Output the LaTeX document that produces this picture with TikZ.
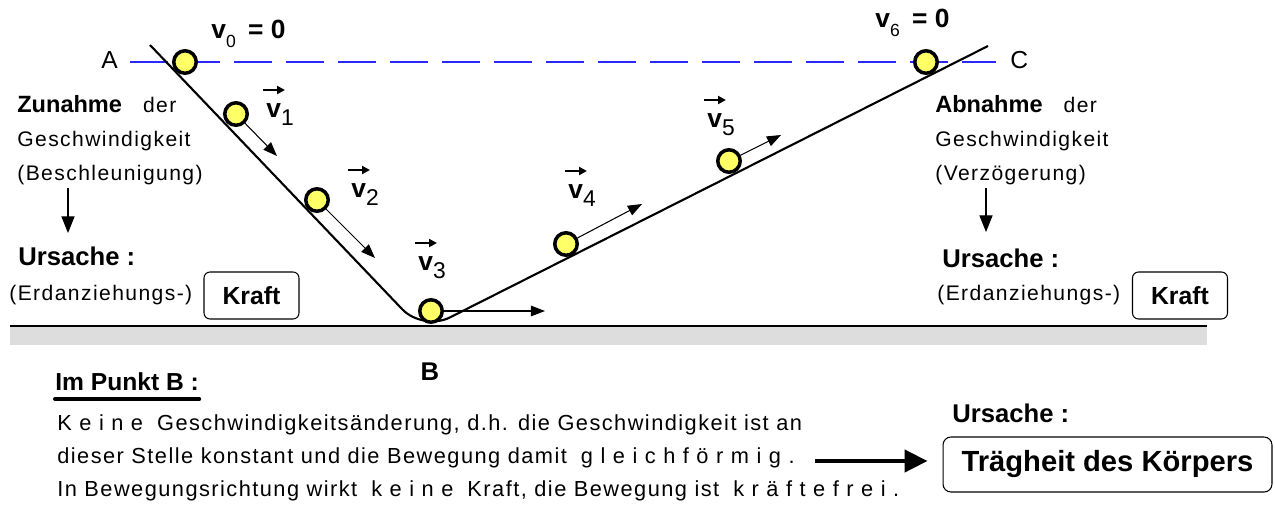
\documentclass[tikz,border=0pt]{standalone}
\usepackage{fontspec}
\setmainfont{Liberation Sans}[UprightFeatures={LetterSpace=6.7}]
\usetikzlibrary{arrows.meta}

\definecolor{ballyellow}{RGB}{255,255,102}
\definecolor{groundgray}{RGB}{221,221,221}
\definecolor{levelblue}{RGB}{40,40,255}

% Geschwindigkeit mit Index
\newcommand{\velo}[1]{\textbf{v}\raisebox{-4.8pt}{\fontsize{13}{13}\selectfont #1}}
\newcommand{\velnull}[1]{\textbf{v}\raisebox{-5.5pt}{\fontsize{10}{10}\selectfont #1}\hspace{7pt}\textbf{= 0}}

\begin{document}
\begin{tikzpicture}[x=0.02cm,y=-0.02cm,
  ball/.style={circle,draw=black,line width=2pt,fill=ballyellow,minimum size=0.45cm,inner sep=0pt},
  txt/.style={anchor=base west,inner sep=0pt,font=\fontsize{12}{14}\selectfont},
  note/.style={anchor=base west,inner sep=0pt,font=\fontsize{12.4}{14}\selectfont},
  cause/.style={anchor=base west,inner sep=0pt,font=\fontsize{14.6}{16}\selectfont\bfseries},
  vlab/.style={anchor=base west,inner sep=0pt,font=\fontsize{15}{16}\selectfont},
  forcebox/.style={draw,rounded corners=3.4pt,line width=0.6pt,minimum width=1.9cm,minimum height=0.94cm,inner sep=0pt,font=\fontsize{14.1}{16}\selectfont\bfseries},
  vec/.style={-{Triangle[length=8pt,width=6pt]},line width=0.6pt},
  ovec/.style={-{Triangle[length=4.5pt,width=4.5pt]},line width=1.1pt},
  down/.style={-{Triangle[length=9.5pt,width=7.5pt]},line width=0.6pt}]
  \useasboundingbox (0,0) rectangle (1275,518);

  % Boden
  \fill[groundgray] (10,327) rectangle (1207,345);
  \coordinate (gl) at (10,326);
  \coordinate (gr) at (1207,326);
  \draw[line width=1.4pt] (gl) -- (gr);

  % Hoehenlinie A -- C
  \coordinate (lvlL) at (130,62);
  \coordinate (lvlR) at (996,62);
  \draw[levelblue,line width=0.7pt,dash pattern=on 21.6pt off 8pt] (lvlL) -- (lvlR);

  % Bahn
  \coordinate (topL) at (150,45);
  \coordinate (bottom) at (423,331);
  \coordinate (topR) at (988,46);
  \draw[line width=1.2pt,rounded corners=0.6cm] (topL) -- (bottom) -- (topR);

  % Kugeln
  \foreach \n/\x/\y in {0/185/62, 1/236/114, 2/317/200, 3/431/311, 4/566/244, 5/729/161, 6/926/62}
    \node[ball] (b\n) at (\x,\y) {};

  % Geschwindigkeitspfeile
  \foreach \n/\x/\y in {1/277/156, 2/375/258, 3/545/311, 4/642/204, 5/781/135}
    \coordinate (t\n) at (\x,\y);
  \foreach \n in {1,...,5}
    \draw[vec] (b\n) -- (t\n);

  % Beschriftung der Vektoren
  \node[vlab] (v0) at (211,38) {\velnull{0}};
  \node[vlab] (v1) at (266,117) {\velo{1}};
  \node[vlab] (v2) at (351,197) {\velo{2}};
  \node[vlab] (v3) at (418,270) {\velo{3}};
  \node[vlab] (v4) at (568,198) {\velo{4}};
  \node[vlab] (v5) at (707,127) {\velo{5}};
  \node[vlab] (v6) at (875,27) {\velnull{6}};
  \foreach \n in {1,...,5}
    \draw[ovec] ([shift={(-3,-27)}]v\n.base west) -- ++(22,0);

  % Punkte
  \node[txt,font=\fontsize{14}{16}\selectfont] (A) at (101,68) {A};
  \node[txt,font=\fontsize{14}{16}\selectfont] (C) at (1010,68) {C};
  \node[cause,anchor=center] (B) at (430,372) {B};

  % linke Seite
  \node[txt] (zun) at (17,112) {\textbf{\fontsize{13.4}{14}\selectfont Zunahme}\hspace{12pt}der};
  \node[txt] (zun2) at (17,146) {Geschwindigkeit};
  \node[txt] (zun3) at (17,180) {(Beschleunigung)};
  \coordinate (la1) at (68,188);
  \coordinate (la2) at (68,233);
  \draw[down] (la1) -- (la2);
  \node[cause] (usL) at (18,265) {Ursache :};
  \node[txt] (erdL) at (9,300) {(Erdanziehungs-)};
  \node[forcebox] (kraftL) at (251.5,295.5) {Kraft};

  % rechte Seite
  \node[txt] (abn) at (935,112) {\textbf{\fontsize{13.4}{14}\selectfont Abnahme}\hspace{12pt}der};
  \node[txt] (abn2) at (935,146) {Geschwindigkeit};
  \node[txt] (abn3) at (935,180) {(Verzögerung)};
  \coordinate (ra1) at (986,188);
  \coordinate (ra2) at (986,232);
  \draw[down] (ra1) -- (ra2);
  \node[cause] (usR) at (942,267) {Ursache :};
  \node[txt] (erdR) at (937,300) {(Erdanziehungs-)};
  \node[forcebox] (kraftR) at (1180,295.5) {Kraft};

  % Punkt B
  \node[anchor=base west,inner sep=0pt,font=\fontsize{14}{16}\selectfont\bfseries] (ipb) at (55,390) {Im Punkt B :};
  \draw[line width=2.3pt,line cap=round] ([yshift=-0.18cm]ipb.base west) -- ([yshift=-0.18cm]ipb.base east);
  \node[note] (l1) at (57,430) {K e i n e\hspace{0.3em} Geschwindigkeitsänderung, d.h. die Geschwindigkeit ist an};
  \node[note] (l2) at (57,463) {dieser Stelle konstant und die Bewegung damit\hspace{0.3em} g l e i c h f ö r m i g .};
  \node[note] (l3) at (57,496) {In Bewegungsrichtung wirkt\hspace{0.3em} k e i n e\hspace{0.3em} Kraft, die Bewegung ist\hspace{0.3em} k r ä f t e f r e i .};

  % Ursache Traegheit
  \node[cause] (usB) at (952,422) {Ursache :};
  \node[draw,rounded corners=4.5pt,line width=0.6pt,minimum width=6.58cm,minimum height=1.1cm,inner sep=0pt,
        font=\fontsize{16.6}{18}\selectfont\bfseries] (traeg) at (1107.5,464.5) {Trägheit des Körpers};
  \coordinate (bigS) at (815,461);
  \draw[line width=2.3pt,-{Triangle[length=13pt,width=12.5pt]},shorten >=0.3cm] (bigS) -- (traeg.west |- bigS);
\end{tikzpicture}
\end{document}
